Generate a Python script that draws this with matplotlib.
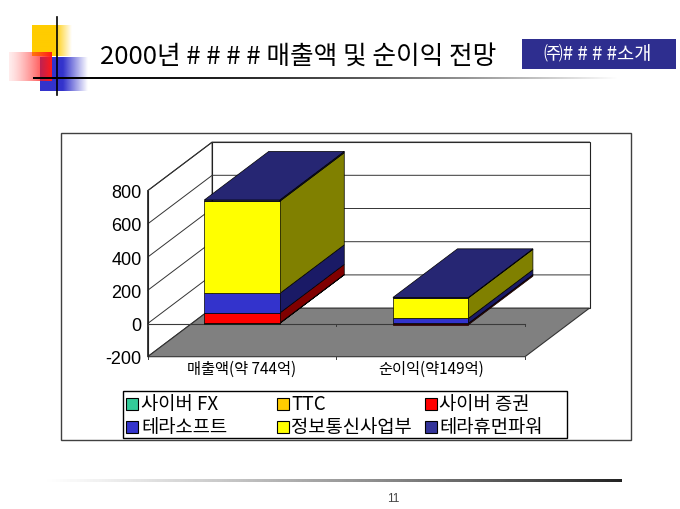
import numpy as np
import matplotlib
matplotlib.use('Agg')
import matplotlib.pyplot as plt
from matplotlib.patches import Rectangle, Polygon
from matplotlib.colors import to_rgb

# ---------------- data ----------------
categories = ['매출액(약 744억)', '순이익(약149억)']
series_names = ['사이버 FX', 'TTC', '사이버 증권', '테라소프트', '정보통신사업부', '테라휴먼파워']
cyber_fx = [1, 0]
ttc = [2, 1]
cyber_sec = [60, -8]
terasoft = [118, 30]
info_comm = [555, 123]
tera_human = [8, 3]
yticks = [-200, 0, 200, 400, 600, 800]
title_text = '2000년 # # # # 매출액 및 순이익 전망'
badge_text = '㈜# # # #소개'
page_no = '11'

series_values = [cyber_fx, ttc, cyber_sec, terasoft, info_comm, tera_human]
front_colors = ['#33CC99', '#FFCC00', '#FF0000', '#3333CC', '#FFFF00', '#333399']

KR = ['Noto Sans CJK KR', 'DejaVu Sans']
LAT = ['Liberation Sans', 'DejaVu Sans']

def shade(c, f):
    r, g, b = to_rgb(c)
    return (r * f, g * f, b * f)

W, H = 680, 510
fig = plt.figure(figsize=(6.8, 5.1), dpi=100)
fig.patch.set_facecolor('white')

# background / decoration axes in pixel coordinates
bg = fig.add_axes([0, 0, 1, 1])
bg.set_autoscale_on(False)
bg.set_xlim(0, W)
bg.set_ylim(H, 0)
bg.axis('off')

def grad_rect(ax, x0, x1, y0, y1, color, alpha, z):
    n = len(alpha)
    arr = np.zeros((1, n, 4))
    arr[..., :3] = to_rgb(color)
    arr[0, :, 3] = alpha
    ax.imshow(arr, extent=(x0, x1, y1, y0), aspect='auto',
              interpolation='bilinear', zorder=z)

t = np.linspace(0, 1, 200)
# yellow square
grad_rect(bg, 32, 72, 26, 57, '#FFCC00', np.clip((72 - (32 + 40 * t)) / 17, 0, 1), 1)
# blue square
grad_rect(bg, 40, 88, 58, 92, '#3333CC', np.clip((88 - (40 + 48 * t)) / 25, 0, 1), 2)
# red square
grad_rect(bg, 9, 52, 53, 82, '#FF1A1A', 0.08 + 0.92 * t ** 1.3, 3)
# lines
bg.plot([57, 57], [18, 96], color='black', lw=1.2, zorder=5)
grad_rect(bg, 33, 620, 78.2, 79.9, '#000000', np.clip(1 - t ** 1.8, 0, 1), 5)
grad_rect(bg, 40, 622, 480.8, 483.2, '#222222', np.clip(t ** 1.2, 0, 1), 5)

# title and badge
bg.text(100, 57, title_text, fontsize=18.5, family=KR, ha='left', va='center',
        color='black', zorder=6)
bg.add_patch(Rectangle((522, 40), 154, 30, facecolor='#2E2E8F', edgecolor='none', zorder=5))
bg.text(598, 55, badge_text, fontsize=13.5, family=KR, ha='center', va='center',
        color='white', zorder=6)
bg.text(393, 499, page_no, fontsize=8.5, family=LAT, ha='center', va='center',
        color='#444444')

# chart border
bg.add_patch(Rectangle((61, 134), 570, 307, facecolor='white', edgecolor='#404040',
                       lw=1.0, zorder=0.5))

# legend (manual)
bg.add_patch(Rectangle((123, 392), 444, 47, facecolor='white', edgecolor='black',
                       lw=1.0, zorder=5))
mx = [126, 277, 425]
tx = [141, 291, 439]
ry = [404.5, 427.5]
for k, name in enumerate(series_names):
    r, c = divmod(k, 3)
    bg.add_patch(Rectangle((mx[c], ry[r] - 6), 12, 12, facecolor=front_colors[k],
                           edgecolor='black', lw=0.8, zorder=6))
    bg.text(tx[c], ry[r], name, fontsize=13.5, family=KR, ha='left', va='center',
            color='black', zorder=6)

# ---------------- 3D-like chart ----------------
L, R, T, B = 147.7, 525.0, 191.7, 357.7
ax = fig.add_axes([L / W, 1 - B / H, (R - L) / W, (B - T) / H])
ax.set_xlim(0, 2)
ax.set_ylim(-200, 800)
ax.patch.set_visible(False)
for s in ax.spines.values():
    s.set_visible(False)
ax.set_zorder(2)

px_x = (R - L) / 2.0
px_y = (B - T) / 1000.0
DX = 64.5 / px_x
DY = 48.6 / px_y
ymin, ymax = yticks[0], yticks[-1]
ncat = len(categories)

# walls and floor
ax.add_patch(Polygon([(0, ymin), (0, ymax), (DX, ymax + DY), (DX, ymin + DY)],
                     closed=True, facecolor='white', edgecolor='#222222', lw=0.8,
                     clip_on=False, zorder=1))
ax.add_patch(Rectangle((DX, ymin + DY), ncat, ymax - ymin, facecolor='white',
                       edgecolor='#222222', lw=0.8, clip_on=False, zorder=1))
ax.add_patch(Polygon([(0, ymin), (ncat, ymin), (ncat + DX, ymin + DY), (DX, ymin + DY)],
                     closed=True, facecolor='#808080', edgecolor='#333333', lw=0.8,
                     clip_on=False, zorder=2))
for v in yticks[1:]:
    ax.plot([0, DX, ncat + DX], [v, v + DY, v + DY], color='#333333', lw=0.7,
            clip_on=False, zorder=1.5)
# category axis at 0 and front edges
ax.plot([0, ncat], [0, 0], color='#3a3a3a', lw=0.8, clip_on=False, zorder=3)
ax.plot([0, 0], [ymin, ymax], color='#222222', lw=0.8, clip_on=False, zorder=3)
for xk in range(ncat + 1):
    ax.plot([xk, xk], [0, -15], color='#3a3a3a', lw=0.7, clip_on=False, zorder=3)
    ax.plot([xk, xk], [ymin, ymin - 15], color='#3a3a3a', lw=0.7, clip_on=False, zorder=3)

# bars
bw = 0.4
for i in range(ncat):
    xc = i + 0.5
    x0, x1 = xc - bw / 2, xc + bw / 2
    pos, neg = 0.0, 0.0
    segs = []
    for j, vals in enumerate(series_values):
        v = vals[i]
        if v == 0:
            continue
        if v > 0:
            b, h = pos, v
            pos += v
        else:
            b, h = neg + v, -v
            neg += v
        segs.append((j, b, h))
    top_j = max([s for s in segs if series_values[s[0]][i] > 0], key=lambda s: s[1] + s[2])
    for j, b, h in segs:
        tp = b + h
        ax.add_patch(Polygon([(x1, b), (x1, tp), (x1 + DX, tp + DY), (x1 + DX, b + DY)],
                             closed=True, facecolor=shade(front_colors[j], 0.5),
                             edgecolor='black', lw=0.5, clip_on=False, zorder=5))
        ax.bar(xc, h, bottom=b, width=bw, color=front_colors[j], edgecolor='black',
               lw=0.5, clip_on=False, zorder=6)
    j, b, h = top_j
    tp = b + h
    ax.add_patch(Polygon([(x0, tp), (x1, tp), (x1 + DX, tp + DY), (x0 + DX, tp + DY)],
                         closed=True, facecolor=shade(front_colors[j], 0.75),
                         edgecolor='black', lw=0.5, clip_on=False, zorder=6))

ax.set_yticks(yticks)
ax.set_yticklabels([str(v) for v in yticks], fontsize=13, family=LAT)
ax.set_xticks([i + 0.5 for i in range(ncat)])
ax.set_xticklabels(categories, fontsize=11, family=KR)
ax.tick_params(axis='y', length=0, pad=4.5)
ax.tick_params(axis='x', length=0, pad=2)

fig.savefig('out.png', dpi=100)
